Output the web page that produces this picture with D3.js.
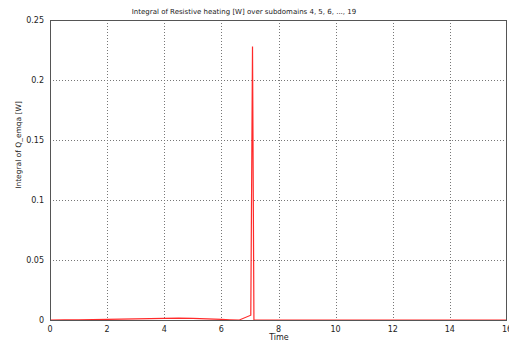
<!DOCTYPE html>
<html>
<head>
<meta charset="utf-8">
<script src="https://cdn.jsdelivr.net/npm/d3@7"></script>
<style>
  body { margin: 0; background: #fff; }
  text { font-family: "DejaVu Sans", Verdana, sans-serif; font-size: 8px; fill: #222; }
</style>
</head>
<body>
<div id="chart"></div>
<script>
var times = [0, 0.5, 1, 1.5, 2, 2.5, 3, 3.5, 4, 4.5, 5, 5.5, 6, 6.3, 6.63, 7.03, 7.09, 7.14, 8, 10, 12, 14, 16];
var values = [0, 0.0001, 0.0002, 0.0003, 0.0005, 0.0007, 0.001, 0.0012, 0.0014, 0.0015, 0.0013, 0.001, 0.0005, 0.0002, 0, 0.004, 0.228, 0, 0, 0, 0, 0, 0];
var xTicks = [0, 2, 4, 6, 8, 10, 12, 14, 16];
var yTicks = [0, 0.05, 0.1, 0.15, 0.2, 0.25];

var W = 509, H = 345;
var margin = {top: 20, right: 2, bottom: 25, left: 50};
var width = W - margin.left - margin.right,
    height = H - margin.top - margin.bottom;

var x = d3.scaleLinear().domain([0, 16]).range([0, width]);
var y = d3.scaleLinear().domain([0, 0.25]).range([height, 0]);

var svg = d3.select("#chart").append("svg")
    .attr("width", W)
    .attr("height", H);

var g = svg.append("g")
    .attr("transform", "translate(" + margin.left + "," + margin.top + ")");

// grid
g.selectAll(".vgrid").data(xTicks.slice(1, -1)).enter().append("line")
    .attr("x1", function(d) { return Math.round(x(d)) + 0.5; })
    .attr("x2", function(d) { return Math.round(x(d)) + 0.5; })
    .attr("y1", 0).attr("y2", height)
    .attr("stroke", "#777").attr("stroke-width", 1)
    .attr("stroke-dasharray", "1,2");

g.selectAll(".hgrid").data(yTicks.slice(1, -1)).enter().append("line")
    .attr("y1", function(d) { return Math.round(y(d)) + 0.5; })
    .attr("y2", function(d) { return Math.round(y(d)) + 0.5; })
    .attr("x1", 0).attr("x2", width)
    .attr("stroke", "#777").attr("stroke-width", 1)
    .attr("stroke-dasharray", "1,2");

var data = times.map(function(t, i) { return {t: t, v: values[i]}; });

var line = d3.line()
    .x(function(d) { return x(d.t); })
    .y(function(d) { return y(d.v); });

g.append("path")
    .datum(data)
    .attr("d", line)
    .attr("fill", "none")
    .attr("stroke", "#ff2a2a")
    .attr("stroke-width", 1.2);

// frame
g.append("rect")
    .attr("x", 0.5).attr("y", 0.5)
    .attr("width", width - 1).attr("height", height)
    .attr("fill", "none")
    .attr("stroke", "#555");

// tick labels
g.selectAll(".xl").data(xTicks).enter().append("text")
    .attr("x", function(d) { return x(d); })
    .attr("y", height + 12)
    .attr("text-anchor", "middle")
    .text(function(d) { return d; });

g.selectAll(".yl").data(yTicks).enter().append("text")
    .attr("x", -6)
    .attr("y", function(d) { return y(d) + 3; })
    .attr("text-anchor", "end")
    .text(function(d) { return d; });

svg.append("text")
    .attr("x", 244).attr("y", 14)
    .attr("text-anchor", "middle")
    .style("font-size", "7px")
    .text("Integral of Resistive heating [W] over subdomains 4, 5, 6, ..., 19");

svg.append("text")
    .attr("x", 279).attr("y", 340)
    .attr("text-anchor", "middle")
    .text("Time");

svg.append("text")
    .attr("transform", "translate(21,145) rotate(-90)")
    .attr("text-anchor", "middle")
    .style("font-size", "7.5px")
    .text("Integral of Q_emqa [W]");
</script>
</body>
</html>
